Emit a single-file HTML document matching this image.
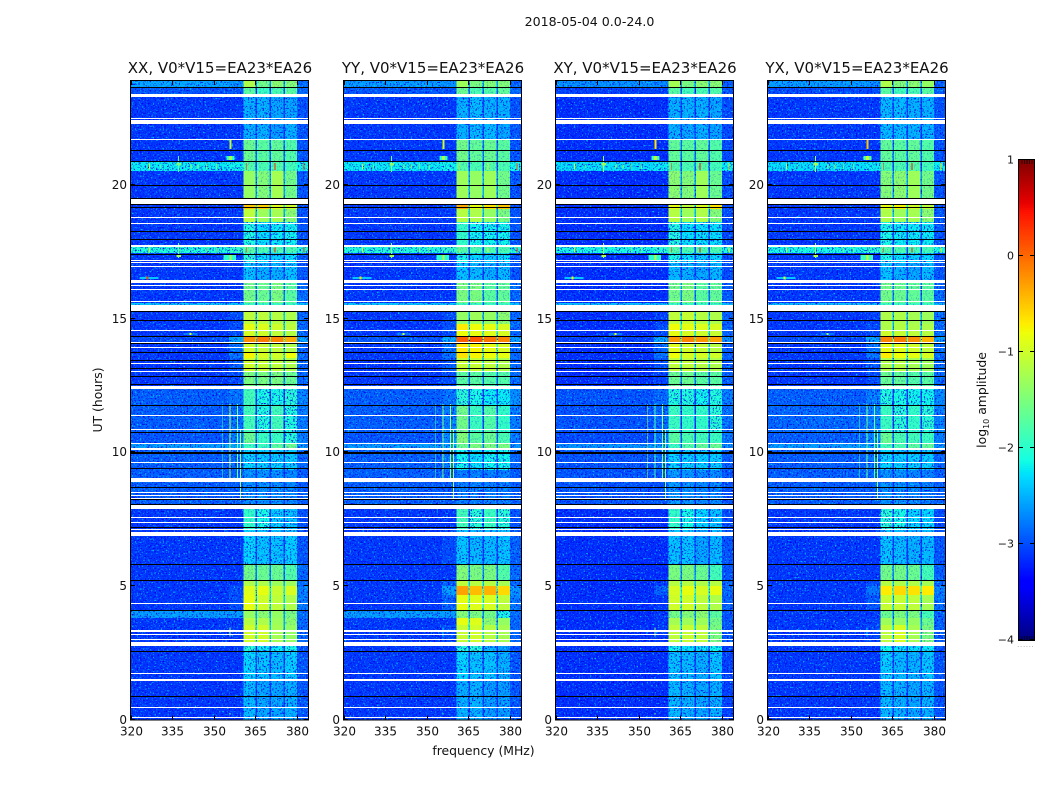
<!DOCTYPE html>
<html lang="en">
<head>
<meta charset="utf-8">
<title>2018-05-04 0.0-24.0</title>
<style>
html,body{margin:0;padding:0;background:#fff;width:1050px;height:800px;overflow:hidden}
svg{display:block}
text{font-family:"DejaVu Sans","Liberation Sans",sans-serif;fill:#111}
</style>
</head>
<body>
<svg id="figure" xmlns="http://www.w3.org/2000/svg" width="1050" height="800" viewBox="0 0 1050 800">
  <defs id="defs"></defs>
  <rect width="1050" height="800" fill="#fff"/>
  <text x="589.5" y="26" font-size="12.6" text-anchor="middle">2018-05-04 0.0-24.0</text>
  <text x="483.5" y="755" font-size="12.4" text-anchor="middle">frequency (MHz)</text>
  <text transform="translate(102,400) rotate(-90)" font-size="12.4" text-anchor="middle">UT (hours)</text>
  <text transform="translate(986,400) rotate(-90)" font-size="12.4" text-anchor="middle">log<tspan font-size="8" dy="3">10</tspan><tspan dy="-3"> amplitude</tspan></text>
  <g id="panels"></g>
  <g id="colorbar"></g>
</svg>
<script>
// ---------- chart data ----------
const panelTitles = ['XX, V0*V15=EA23*EA26','YY, V0*V15=EA23*EA26','XY, V0*V15=EA23*EA26','YX, V0*V15=EA23*EA26'];
const xTickValues = [320,335,350,365,380];
const yTickValues = [0,5,10,15,20];
const colorbarTicks = [1,0,-1,-2,-3,-4];

// frequency column edges in MHz: background, shoulder, 4 sub-bands split by 3 dark gaps, upper edge
const channelEdges = [320,355.5,360.7,365,365.5,370,370.55,375.1,375.65,380.1,384];
// which level each column reads: index into a level row, or -1 for a sub-band gap
const channelLevelIndex = [0,1,2,-1,3,-1,4,-1,5,6];
const gapDrop = 1.2;

// start hour of each time row
const rowStartHours = [0,1.48,2.56,2.90,3.54,3.80,4.10,4.66,5.00,5.22,5.82,7.09,8.03,9.34,10.12,10.31,10.76,11.73,12.48,13.00,13.53,13.75,14.09,14.31,14.57,14.80,15.25,15.59,16.45,17.12,17.46,17.75,18.62,19.10,19.51,20.52,20.86,21.68,22.28,23.29,23.63];

// log10 amplitude per row: [background, shoulder, band1, band2, band3, band4, upper edge]
const levelsXX = [
[-3.1,-3.1,-2.45,-2.55,-2.55,-2.5,-2.95],[-3.1,-3.1,-2.3,-2.4,-2.45,-2.35,-2.95],[-3.1,-3.1,-2.0,-2.2,-2.2,-2.1,-2.95],
[-3.1,-3.1,-1.0,-1.0,-1.25,-1.35,-2.85],[-3.1,-3.1,-1.15,-1.2,-1.3,-1.4,-2.85],[-2.6,-2.6,-1.35,-1.4,-1.35,-1.5,-2.85],
[-3.1,-3.0,-0.85,-1.0,-1.1,-1.2,-2.75],[-3.1,-3.0,-0.9,-0.85,-1.05,-0.95,-2.75],[-3.1,-3.1,-1.2,-1.2,-1.3,-1.3,-2.85],
[-3.1,-3.1,-1.55,-1.6,-1.6,-1.75,-2.85],[-3.1,-3.1,-2.3,-2.4,-2.4,-2.35,-2.95],[-3.1,-3.1,-1.95,-2.1,-2.35,-2.4,-2.95],
[-2.9,-2.9,-2.65,-2.65,-2.65,-2.7,-2.9],[-2.9,-2.85,-2.3,-2.35,-2.35,-2.35,-2.85],[-2.6,-2.55,-1.9,-1.9,-1.7,-1.6,-2.65],
[-2.95,-2.75,-1.6,-1.9,-1.9,-2.0,-2.75],[-2.9,-2.8,-1.85,-2.05,-1.85,-2.05,-2.75],[-2.9,-2.8,-1.85,-2.1,-2.1,-2.0,-2.7],
[-3.1,-3.0,-1.5,-1.5,-1.5,-1.6,-2.85],[-3.1,-2.9,-1.0,-1.05,-1.1,-1.2,-2.85],[-3.1,-2.8,-0.75,-0.95,-1.0,-0.8,-2.85],
[-3.1,-2.8,-1.0,-1.05,-1.1,-1.2,-2.85],[-3.0,-2.55,-0.2,-0.1,-0.15,-0.35,-2.6],[-3.1,-3.0,-0.95,-1.0,-1.1,-1.15,-2.85],
[-3.1,-3.0,-0.85,-0.9,-1.0,-1.1,-2.85],[-3.1,-3.0,-1.1,-1.1,-1.15,-1.2,-2.85],[-2.4,-2.4,-1.9,-1.9,-1.9,-1.9,-2.4],
[-3.1,-3.1,-1.55,-1.6,-1.5,-1.7,-2.85],[-3.1,-3.1,-2.4,-2.5,-2.5,-2.4,-2.95],[-3.1,-3.1,-2.0,-2.25,-2.35,-2.25,-2.95],
[-2.05,-1.95,-1.7,-1.8,-1.8,-1.8,-2.05],[-3.1,-3.1,-2.05,-2.25,-2.2,-2.15,-2.95],[-3.1,-3.1,-1.1,-1.3,-1.25,-1.4,-2.95],
[-3.1,-3.1,-0.5,-0.55,-0.9,-1.0,-2.95],[-3.1,-3.1,-1.35,-1.45,-1.25,-1.55,-2.95],[-2.2,-2.15,-1.75,-1.8,-1.75,-1.85,-2.15],
[-3.1,-3.1,-1.6,-1.7,-1.65,-1.75,-2.95],[-3.1,-3.1,-2.5,-2.5,-2.6,-2.5,-2.95],[-3.1,-3.1,-2.5,-2.5,-2.55,-2.55,-2.95],
[-2.95,-2.95,-1.7,-1.9,-1.8,-1.7,-2.85],[-2.55,-2.65,-1.2,-1.55,-1.4,-1.45,-2.85]];
const levelsYY = [
[-3.1,-3.1,-2.5,-2.5,-2.6,-2.6,-2.95],[-3.1,-3.1,-2.3,-2.4,-2.4,-2.5,-2.95],[-3.1,-3.1,-2.05,-2.0,-2.5,-2.6,-2.95],
[-3.1,-3.0,-1.05,-1.0,-1.15,-1.25,-2.85],[-3.1,-3.1,-0.85,-0.9,-1.4,-1.35,-2.85],[-2.6,-2.6,-1.45,-1.5,-1.55,-2.1,-2.85],
[-3.1,-2.9,-0.85,-0.9,-0.95,-1.1,-2.75],[-3.1,-2.6,-0.3,-0.45,-0.4,-0.6,-2.65],[-3.1,-2.9,-1.1,-1.15,-1.15,-1.25,-2.85],
[-3.1,-3.1,-1.45,-1.5,-1.5,-1.75,-2.85],[-3.1,-3.0,-2.4,-2.45,-2.45,-2.4,-2.9],[-3.1,-3.1,-1.85,-2.0,-1.9,-2.0,-2.95],
[-2.9,-2.9,-2.75,-2.75,-2.75,-2.75,-2.9],[-2.9,-2.75,-2.15,-2.25,-2.15,-2.15,-2.85],[-2.6,-2.55,-1.6,-1.5,-1.5,-1.5,-2.65],
[-2.95,-2.7,-1.45,-1.7,-1.6,-1.8,-2.75],[-2.9,-2.75,-1.55,-1.9,-1.75,-1.95,-2.75],[-2.9,-2.8,-2.0,-2.1,-2.2,-2.2,-2.65],
[-3.1,-3.0,-1.7,-1.7,-1.75,-1.75,-2.85],[-3.1,-2.9,-1.05,-1.05,-1.1,-1.2,-2.85],[-3.1,-2.8,-0.65,-0.75,-0.8,-0.85,-2.85],
[-3.1,-2.8,-0.7,-0.75,-0.85,-0.95,-2.85],[-2.95,-2.55,0.05,0.1,-0.05,-0.15,-2.6],[-3.1,-3.0,-0.8,-0.85,-0.9,-0.95,-2.85],
[-3.1,-2.95,-0.7,-0.8,-0.85,-0.95,-2.85],[-3.1,-3.0,-1.35,-1.3,-1.35,-1.4,-2.85],[-2.4,-2.4,-1.9,-1.9,-1.9,-1.9,-2.4],
[-3.1,-3.1,-1.5,-1.5,-1.7,-1.65,-2.85],[-3.1,-3.1,-2.4,-2.45,-2.5,-2.45,-2.95],[-3.1,-3.1,-2.1,-2.3,-2.35,-2.25,-2.95],
[-2.05,-1.95,-1.75,-1.8,-1.8,-1.8,-2.05],[-3.1,-3.1,-1.95,-2.15,-2.15,-2.15,-2.95],[-3.1,-3.1,-1.15,-1.2,-1.35,-1.5,-2.95],
[-3.1,-3.0,-0.35,-0.85,-0.65,-0.5,-2.95],[-3.1,-3.1,-1.3,-1.35,-1.3,-1.55,-2.95],[-2.2,-2.15,-1.75,-1.8,-1.75,-1.8,-2.15],
[-3.1,-3.1,-1.55,-1.65,-1.6,-1.7,-2.95],[-3.1,-3.1,-2.5,-2.45,-2.45,-2.55,-2.95],[-3.1,-3.1,-2.5,-2.45,-2.5,-2.5,-2.95],
[-2.95,-2.95,-1.6,-1.8,-1.75,-1.65,-2.85],[-2.6,-2.65,-1.3,-1.5,-1.45,-1.45,-2.85]];
const levelsXY = [
[-3.15,-3.15,-2.45,-2.5,-2.55,-2.5,-3.05],[-3.15,-3.15,-2.4,-2.45,-2.5,-2.4,-3.05],[-3.15,-3.15,-2.15,-2.25,-2.25,-2.15,-3.05],
[-3.15,-3.1,-1.1,-1.05,-1.1,-1.5,-2.95],[-3.15,-3.1,-1.25,-1.3,-1.3,-1.55,-2.95],[-3.15,-3.1,-1.55,-1.45,-1.4,-1.7,-2.95],
[-3.15,-3.1,-1.0,-1.0,-1.1,-1.2,-2.9],[-3.15,-2.9,-0.95,-0.85,-0.95,-0.85,-2.85],[-3.15,-3.1,-1.15,-1.15,-1.2,-1.15,-2.9],
[-3.15,-3.15,-1.5,-1.5,-1.6,-1.85,-2.95],[-3.15,-3.15,-2.4,-2.4,-2.55,-2.45,-2.95],[-3.15,-3.15,-1.95,-2.1,-2.3,-2.4,-3.0],
[-2.95,-2.95,-2.6,-2.65,-2.7,-2.7,-2.95],[-2.95,-2.85,-2.3,-2.35,-2.35,-2.35,-2.9],[-2.65,-2.6,-1.9,-1.75,-1.65,-1.6,-2.7],
[-3.0,-2.8,-1.7,-1.8,-1.85,-1.9,-2.8],[-2.95,-2.85,-1.9,-1.95,-1.95,-2.0,-2.8],[-2.95,-2.85,-2.05,-2.05,-2.15,-2.05,-2.75],
[-3.15,-3.05,-1.6,-1.6,-1.7,-1.7,-2.9],[-3.15,-2.95,-1.1,-1.1,-1.15,-1.2,-2.9],[-3.15,-2.8,-0.8,-0.95,-0.95,-1.0,-2.9],
[-3.15,-2.85,-0.9,-1.0,-1.05,-1.15,-2.9],[-3.05,-2.55,-0.25,-0.15,-0.25,-0.3,-2.65],[-3.15,-3.0,-0.85,-0.95,-1.0,-1.05,-2.9],
[-3.15,-3.0,-0.8,-0.85,-0.9,-0.95,-2.9],[-3.15,-3.05,-1.1,-1.05,-1.15,-1.2,-2.9],[-2.45,-2.45,-1.9,-1.9,-1.9,-1.9,-2.45],
[-3.15,-3.15,-1.55,-1.5,-1.7,-1.65,-2.9],[-3.15,-3.15,-2.45,-2.5,-2.55,-2.45,-3.0],[-3.15,-3.15,-2.1,-2.25,-2.35,-2.3,-3.0],
[-2.1,-2.0,-1.75,-1.8,-1.8,-1.8,-2.1],[-3.15,-3.15,-2.05,-2.25,-2.25,-2.25,-3.0],[-3.15,-3.15,-1.15,-1.3,-1.2,-1.45,-3.0],
[-3.15,-3.1,-0.85,-1.1,-0.9,-0.65,-3.0],[-3.15,-3.15,-1.4,-1.45,-1.3,-1.6,-3.0],[-2.25,-2.2,-1.75,-1.8,-1.75,-1.85,-2.2],
[-3.15,-3.15,-1.65,-1.7,-1.65,-1.75,-3.0],[-3.15,-3.15,-2.5,-2.55,-2.5,-2.55,-3.0],[-3.15,-3.15,-2.5,-2.5,-2.5,-2.55,-3.0],
[-3.05,-3.05,-1.7,-1.85,-1.8,-1.75,-2.95],[-2.65,-2.7,-1.25,-1.5,-1.4,-1.4,-2.9]];
const levelsYX = [
[-3.1,-3.1,-2.45,-2.5,-2.55,-2.5,-2.95],[-3.1,-3.1,-2.35,-2.45,-2.5,-2.4,-2.95],[-3.1,-3.1,-2.15,-2.25,-2.25,-2.2,-2.95],
[-3.1,-3.05,-1.1,-0.95,-1.25,-1.5,-2.9],[-3.1,-3.05,-1.3,-1.35,-1.35,-1.6,-2.9],[-3.1,-3.1,-1.6,-1.5,-1.5,-1.85,-2.9],
[-3.1,-2.95,-1.05,-1.05,-1.1,-1.25,-2.8],[-3.1,-2.8,-0.7,-0.6,-0.65,-0.7,-2.75],[-3.1,-3.0,-1.15,-1.2,-1.2,-1.25,-2.85],
[-3.1,-3.1,-1.55,-1.55,-1.6,-1.85,-2.9],[-3.1,-3.1,-2.4,-2.45,-2.5,-2.45,-2.95],[-3.1,-3.1,-2.0,-2.1,-2.3,-2.3,-3.0],
[-2.9,-2.9,-2.65,-2.65,-2.7,-2.75,-2.9],[-2.9,-2.8,-2.3,-2.35,-2.35,-2.35,-2.85],[-2.6,-2.55,-1.85,-1.8,-1.7,-1.65,-2.65],
[-2.9,-2.7,-1.6,-1.8,-1.85,-1.9,-2.75],[-2.85,-2.75,-1.9,-2.0,-1.95,-2.0,-2.75],[-2.9,-2.75,-2.05,-2.1,-2.15,-2.15,-2.7],
[-3.1,-3.0,-1.6,-1.65,-1.75,-1.7,-2.85],[-3.1,-2.95,-1.2,-1.15,-1.25,-1.3,-2.85],[-3.1,-2.8,-0.7,-0.8,-0.85,-0.95,-2.85],
[-3.1,-2.8,-0.85,-0.9,-1.0,-1.1,-2.85],[-3.0,-2.55,-0.15,-0.1,-0.2,-0.4,-2.6],[-3.1,-3.0,-1.0,-1.05,-1.1,-1.15,-2.85],
[-3.1,-3.0,-1.2,-1.15,-1.2,-1.2,-2.85],[-3.1,-3.05,-1.2,-1.2,-1.25,-1.3,-2.85],[-2.45,-2.45,-1.9,-1.9,-1.9,-1.9,-2.45],
[-3.1,-3.1,-1.55,-1.6,-1.65,-1.7,-2.85],[-3.1,-3.1,-2.4,-2.5,-2.55,-2.45,-2.95],[-3.1,-3.1,-2.1,-2.25,-2.35,-2.3,-2.95],
[-2.1,-2.0,-1.75,-1.8,-1.85,-1.85,-2.1],[-3.1,-3.1,-2.1,-2.2,-2.2,-2.2,-2.95],[-3.1,-3.1,-1.2,-1.3,-1.25,-1.4,-2.95],
[-3.1,-3.1,-0.85,-0.75,-1.0,-1.1,-2.95],[-3.1,-3.1,-1.45,-1.4,-1.3,-1.55,-2.95],[-2.25,-2.2,-1.8,-1.8,-1.75,-1.85,-2.2],
[-3.1,-3.1,-1.65,-1.7,-1.65,-1.75,-2.95],[-3.1,-3.1,-2.45,-2.45,-2.5,-2.5,-2.95],[-3.1,-3.1,-2.45,-2.45,-2.5,-2.5,-2.95],
[-3.0,-3.0,-1.7,-1.85,-1.8,-1.7,-2.9],[-2.6,-2.65,-1.2,-1.45,-1.4,-1.35,-2.9]];
const panelLevels = [levelsXX,levelsYY,levelsXY,levelsYX];

// flagged (masked) time ranges drawn white: [start hour, end hour]
const whiteGaps = [[0.05,0.085],[0.44,0.475],[1.44,1.515],[1.71,1.75],[2.75,2.911],[2.98,3.02],[3.17,3.205],[3.274,3.349],[4.33,4.365],[6.878,7.016],[7.10,7.135],[7.36,7.395],[7.55,7.585],[7.877,8.026],[8.245,8.28],[8.355,8.39],[8.47,8.505],[8.887,9.048],[9.605,9.64],[10.08,10.14],[10.32,10.355],[10.825,10.86],[11.365,11.4],[12.378,12.479],[13.02,13.055],[13.295,13.33],[13.885,13.92],[14.095,14.13],[14.555,14.59],[15.297,15.522],[15.62,15.675],[16.09,16.125],[16.205,16.24],[16.333,16.445],[16.95,16.985],[17.065,17.1],[17.175,17.21],[17.68,17.755],[17.925,17.96],[18.525,18.56],[18.75,18.785],[19.278,19.488],[21.69,21.725],[22.283,22.414],[22.459,22.515],[23.293,23.417]];
// dropped integrations drawn black: [start hour, end hour]
const blackLines = [[0.85,0.885],[2.545,2.58],[4.07,4.105],[5.19,5.225],[5.79,5.825],[7.16,7.195],[8.045,8.08],[8.225,8.26],[8.67,8.705],[9.38,9.415],[9.92,10.02],[10.74,10.775],[11.715,11.75],[12.535,12.57],[12.825,12.86],[13.125,13.16],[13.425,13.46],[13.72,13.755],[14.07,14.105],[14.32,14.355],[14.93,14.965],[15.245,15.3],[17.365,17.4],[17.95,17.985],[18.25,18.285],[19.15,19.185],[19.26,19.295],[19.485,19.52],[19.97,20.005],[20.87,20.905],[21.28,21.315],[23.64,23.675]];

// narrow interference marks: [freq lo, freq hi, hour lo, hour hi, XX, YY, XY, YX]
const rfiMarks = [
[337.05,337.4,20.49,21.09,-1.7,-1.5,-1.3,-1.3],[336.4,338.1,20.72,20.82,-1.5,-1.4,-1.3,-1.3],
[337.05,337.4,17.27,17.83,-1.6,-1.4,-1.3,-1.3],[336.5,338,17.3,17.38,-1.3,-1.3,-1.2,-1.2],
[355.7,356.4,21.35,21.68,-1.1,-1.0,-0.65,-0.5],[354.6,357.4,20.94,21.09,-2.0,-2.0,-1.9,-1.8],[355.5,356.5,20.94,21.09,-1.2,-1.2,-1.1,-1.0],[353.5,358,17.2,17.42,-2.0,-2.0,-2.0,-1.9],
[355.7,356.3,17.2,17.42,-1.2,-1.1,-1.1,-1.0],
[361.5,361.85,20.56,20.83,0.4,-0.6,0.3,0.4],[371.9,372.25,20.56,20.83,0.4,-0.9,0.5,0.45],[382.3,382.65,20.56,20.83,0.2,0.1,-0.9,-0.7],
[326.55,326.9,20.58,20.8,-0.9,-1.0,-1.0,-1.2],[347.25,347.55,20.58,20.8,-1.0,-1.0,-1.0,-1.2],[350.65,350.95,20.58,20.8,-0.9,-1.0,-1.0,-1.2],[330.6,330.9,20.62,20.76,-1.3,-1.2,-1.2,-1.3],[341.6,341.9,20.62,20.76,-1.3,-1.3,-1.1,-1.3],[344.1,344.4,20.62,20.76,-1.3,-1.3,-1.3,-1.3],
[361.5,361.85,17.47,17.66,0.4,-0.9,0.4,0.4],[371.9,372.25,17.47,17.66,0.4,-0.8,0.5,0.4],[382.3,382.65,17.47,17.66,0.2,0.1,-0.8,-0.7],
[326.55,326.9,17.47,17.66,-0.9,-1.0,-0.9,-1.2],[347.25,347.55,17.47,17.66,-1.0,-1.0,-1.0,-1.2],[350.65,350.95,17.47,17.66,-1.0,-1.0,-1.0,-1.2],
[323,330,16.49,16.56,-2.4,-2.4,-2.4,-2.4],[325.6,326.4,16.47,16.58,0.2,-0.6,-0.7,-1.0],
[339,344,14.4,14.45,-2.4,-2.5,-2.4,-2.5],[341.2,341.8,14.38,14.46,-0.9,-1.0,-0.8,-1.3],
[353,353.3,11.8,9.04,-1.8,-1.8,-1.2,-1.8],[355.7,356,11.8,9.04,-1.2,-1.5,-1.8,-1.6],[358.4,358.7,11.8,9.04,-1.6,-1.3,-1.4,-1.6],[359.4,359.7,10.83,8.2,-1.3,-1.2,-1.4,-1.3],
[355.7,356,3.1,3.45,-1.4,-2.3,-1.5,-2.3],[355.7,356,0.18,0.24,-1.5,-1.9,-1.5,-2.3]];

// jet colour map anchors: [position, channel value]
const jetRed = [[0,0],[0.35,0],[0.66,1],[0.89,1],[1,0.5]];
const jetGreen = [[0,0],[0.125,0],[0.375,1],[0.64,1],[0.91,0],[1,0]];
const jetBlue = [[0,0.5],[0.11,1],[0.34,1],[0.65,0],[1,0]];

// ---------- axes ----------
const SVG_NS = 'http://www.w3.org/2000/svg';
const panelLeft = [131,344,556,768];
const panelWidth = 177, plotTop = 81, plotBottom = 719.5;
const fMin = 320, fMax = 384, hMin = 0, hMax = 23.89;
const vMin = -4, vMax = 1;
function xScale(i,f){return panelLeft[i]+(f-fMin)/(fMax-fMin)*panelWidth;}
function yScale(h){return plotBottom-(h-hMin)/(hMax-hMin)*(plotBottom-plotTop);}
function channel(pts,t){
  for(let k=1;k<pts.length;k++){
    if(t<=pts[k][0]){
      const a=pts[k-1],b=pts[k];
      return a[1]+(b[1]-a[1])*(t-a[0])/(b[0]-a[0]);
    }
  }
  return pts[pts.length-1][1];
}
function jet(v){
  const t=Math.max(0,Math.min(1,(v-vMin)/(vMax-vMin)));
  const c=[jetRed,jetGreen,jetBlue].map(p=>Math.round(channel(p,t)*255));
  return 'rgb('+c.join(',')+')';
}
function mk(tag,parent){const e=document.createElementNS(SVG_NS,tag);parent.appendChild(e);return e;}
function place(r,x0,x1,y0,y1,fill){
  r.setAttribute('x',x0);r.setAttribute('y',y0);
  r.setAttribute('width',Math.max(x1-x0,0.1));r.setAttribute('height',Math.max(y1-y0,0.1));
  r.setAttribute('fill',fill);r.setAttribute('shape-rendering','crispEdges');
}

// speckle texture filters (purely a surface texture, carries no values)
const defs=document.getElementById('defs');
function addFilter(id,seed,matrix){
  const f=mk('filter',defs);
  f.setAttribute('id',id);f.setAttribute('x','0');f.setAttribute('y','0');f.setAttribute('width','100%');f.setAttribute('height','100%');
  f.setAttribute('color-interpolation-filters','sRGB');
  const t=mk('feTurbulence',f);
  t.setAttribute('type','fractalNoise');t.setAttribute('baseFrequency','0.62');t.setAttribute('numOctaves','2');t.setAttribute('seed',seed);
  const m=mk('feColorMatrix',f);
  m.setAttribute('type','matrix');m.setAttribute('values',matrix);
}
function addSpeckle(parent,i,strength){
  [['speckle-light-',0.8*strength],['speckle-dark-',0.9*strength]].forEach(function(s){
    const ov=mk('rect',parent);
    
    
    ov.setAttribute('x',panelLeft[i]);ov.setAttribute('y',plotTop);
    ov.setAttribute('width',panelWidth);ov.setAttribute('height',plotBottom-plotTop);
    ov.setAttribute('filter','url(#'+s[0]+i+')');
    ov.setAttribute('opacity',s[1]);
  });
}

const panelsRoot=document.getElementById('panels');
panelTitles.forEach(function(title,i){
  const g=mk('g',panelsRoot);
  
  

  addFilter('speckle-light-'+i,3+i*7,'0 0 0 0 0  0 0 0 0 0.85  0 0 0 0 1  6 0 0 0 -3.6');
  addFilter('speckle-dark-'+i,11+i*5,'0 0 0 0 0  0 0 0 0 0  0 0 0 0 0.9  0 6 0 0 -3.35');

  const coolCells=mk('g',g);
  
  
  const texture=mk('g',g);
  
  
  const midCells=mk('g',g);
  
  
  const softTexture=mk('g',g);
  
  
  const hotCells=mk('g',g);
  
  

  const levels=panelLevels[i];
  rowStartHours.forEach(function(start,r){
    const end=r+1<rowStartHours.length?rowStartHours[r+1]:hMax;
    const y0=Math.round(yScale(end)),y1=Math.round(yScale(start));
    channelLevelIndex.forEach(function(idx,c){
      const v=idx>=0?levels[r][idx]:Math.max(-3.1,(levels[r][channelLevelIndex[c-1]]+levels[r][channelLevelIndex[c+1]])/2-gapDrop);
      const isBand=idx>=2&&idx<=5;
      const parent=isBand&&v>-2.0?(v>-1.4?hotCells:midCells):coolCells;
      const cell=mk('rect',parent);
      
      
      place(cell,xScale(i,channelEdges[c]),xScale(i,channelEdges[c+1]),y0,y1,jet(v));
    });
  });

  addSpeckle(texture,i,1);
  addSpeckle(softTexture,i,0.3);

  rfiMarks.forEach(function(m){
    const rf=mk('rect',g);
    
    
    const hi=Math.max(m[2],m[3]),lo=Math.min(m[2],m[3]);
    place(rf,xScale(i,m[0]),xScale(i,m[1]),yScale(hi),yScale(lo),jet(m[4+i]));
  });

  whiteGaps.forEach(function(w){
    const gap=mk('rect',g);
    
    
    const y0=Math.round(yScale(w[1])),y1=Math.max(Math.round(yScale(w[0])),y0+1);
    place(gap,panelLeft[i],panelLeft[i]+panelWidth,y0,y1,'#fff');
  });
  blackLines.forEach(function(w){
    const line=mk('rect',g);
    
    
    const y0=Math.round(yScale(w[1])),y1=Math.max(Math.round(yScale(w[0])),y0+1);
    place(line,panelLeft[i],panelLeft[i]+panelWidth,y0,y1,'#000');
  });

  const frame=mk('rect',g);
  
  
  frame.setAttribute('x',panelLeft[i]-0.5);frame.setAttribute('y',plotTop-0.5);
  frame.setAttribute('width',panelWidth+1);frame.setAttribute('height',plotBottom-plotTop+1);
  frame.setAttribute('fill','none');frame.setAttribute('stroke','#000');frame.setAttribute('stroke-width','1');
  frame.setAttribute('shape-rendering','crispEdges');

  const head=mk('text',g);
  
  
  head.setAttribute('x',panelLeft[i]+panelWidth/2+0.5);head.setAttribute('y',73);
  head.setAttribute('font-size','15');head.setAttribute('text-anchor','middle');
  head.textContent=title;

  xTickValues.forEach(function(v){
    const x=Math.round(xScale(i,v))+0.5;
    [[plotBottom,plotBottom-4],[plotTop,plotTop+4]].forEach(function(p){
      const t=mk('line',g);
      
      
      t.setAttribute('x1',x);t.setAttribute('x2',x);t.setAttribute('y1',p[0]);t.setAttribute('y2',p[1]);
      t.setAttribute('stroke','#000');t.setAttribute('shape-rendering','crispEdges');
    });
    const l=mk('text',g);
    
    
    l.setAttribute('x',x);l.setAttribute('y',735.5);l.setAttribute('font-size','12');l.setAttribute('text-anchor','middle');
    l.textContent=String(v);
  });
  yTickValues.forEach(function(v){
    const y=Math.round(yScale(v))-0.5;
    [[panelLeft[i],panelLeft[i]+4],[panelLeft[i]+panelWidth,panelLeft[i]+panelWidth-4]].forEach(function(p){
      const t=mk('line',g);
      
      
      t.setAttribute('x1',p[0]);t.setAttribute('x2',p[1]);t.setAttribute('y1',y);t.setAttribute('y2',y);
      t.setAttribute('stroke','#000');t.setAttribute('shape-rendering','crispEdges');
    });
    const l=mk('text',g);
    
    
    l.setAttribute('x',panelLeft[i]-4);l.setAttribute('y',y+4.5);l.setAttribute('font-size','12');l.setAttribute('text-anchor','end');
    l.textContent=String(v);
  });
});

// ---------- colour bar ----------
const cb=document.getElementById('colorbar');
const cbLeft=1019,cbRight=1034,cbTop=160,cbBottom=640;
function cbY(v){return cbBottom-(v-vMin)/(vMax-vMin)*(cbBottom-cbTop);}
for(let py=cbTop;py<cbBottom;py+=2){
  const s=mk('rect',cb);
  
  
  const v=vMin+(cbBottom-py-1)/(cbBottom-cbTop)*(vMax-vMin);
  place(s,cbLeft,cbRight,py,py+2,jet(v));
}
const cbFrame=mk('rect',cb);


cbFrame.setAttribute('x',cbLeft-0.5);cbFrame.setAttribute('y',cbTop-0.5);
cbFrame.setAttribute('width',cbRight-cbLeft+1);cbFrame.setAttribute('height',cbBottom-cbTop+1);
cbFrame.setAttribute('fill','none');cbFrame.setAttribute('stroke','#000');cbFrame.setAttribute('shape-rendering','crispEdges');
colorbarTicks.forEach(function(v){
  const y=Math.round(cbY(v))-0.5;
  [[cbLeft,cbLeft+4],[cbRight,cbRight-4]].forEach(function(p){
    const t=mk('line',cb);
    
    
    t.setAttribute('x1',p[0]);t.setAttribute('x2',p[1]);t.setAttribute('y1',y);t.setAttribute('y2',y);
    t.setAttribute('stroke','#000');t.setAttribute('shape-rendering','crispEdges');
  });
  const l=mk('text',cb);
  
  
  l.setAttribute('x',cbLeft-5);l.setAttribute('y',y+4);l.setAttribute('font-size','11');l.setAttribute('text-anchor','end');
  l.textContent=String(v).replace('-','\u2212');
});
[cbLeft+3,cbLeft+5.5,cbLeft+8,cbLeft+10.5,cbLeft+13].forEach(function(x){
  [[cbTop,cbTop+4],[cbBottom,cbBottom-4]].forEach(function(p){
    const t=mk('line',cb);
    
    
    t.setAttribute('x1',x);t.setAttribute('x2',x);t.setAttribute('y1',p[0]);t.setAttribute('y2',p[1]);
    t.setAttribute('stroke','#000');t.setAttribute('stroke-width','0.7');
  });
});
const cbDots=mk('text',cb);


cbDots.setAttribute('x',1026);cbDots.setAttribute('y',647);
cbDots.setAttribute('font-size','6');cbDots.setAttribute('text-anchor','middle');cbDots.setAttribute('letter-spacing','1');
cbDots.setAttribute('style','fill:#777');
cbDots.textContent='......';
</script>
</body>
</html>
